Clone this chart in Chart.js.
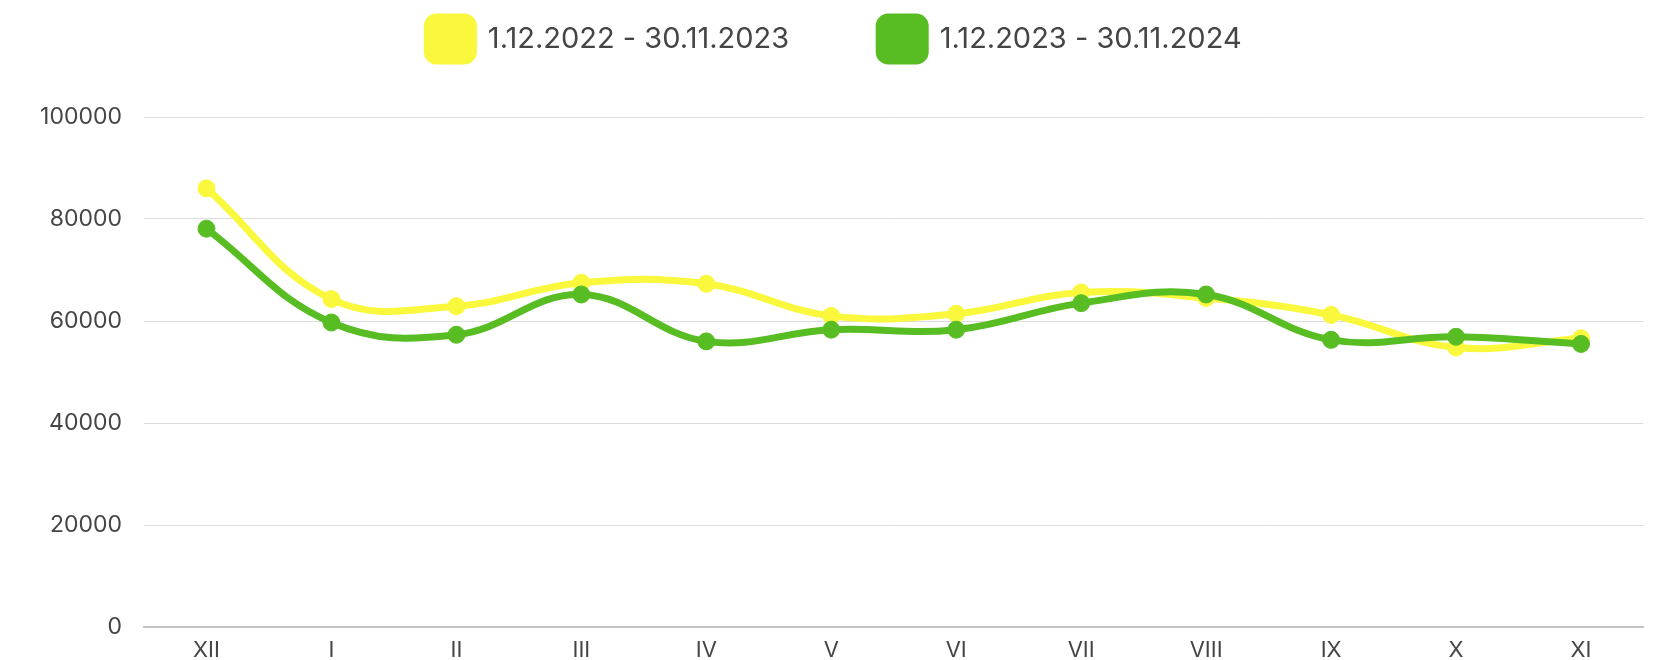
<!DOCTYPE html>
<html>
<head>
<meta charset="utf-8">
<script src="https://cdn.jsdelivr.net/npm/chart.js@4"></script>
<style>
    html, body { margin: 0; padding: 0; background: #ffffff; overflow: hidden; }
    #wrap { width: 1653px; height: 660px; }
</style>
</head>
<body>
<div id="wrap"><canvas id="salesChart" width="1653" height="660"></canvas></div>
<script>
// Months (Roman numerals), Dec -> Nov
const months = ['XII', 'I', 'II', 'III', 'IV', 'V', 'VI', 'VII', 'VIII', 'IX', 'X', 'XI'];

const prevYearLabel = '1.12.2022 - 30.11.2023';
const prevYearValues = [86000, 64300, 62900, 67500, 67300, 61000, 61400, 65600, 64500, 61200, 54800, 56600];

const currYearLabel = '1.12.2023 - 30.11.2024';
const currYearValues = [78100, 59700, 57300, 65200, 56000, 58300, 58300, 63500, 65200, 56300, 56900, 55500];

const yMax = 100000;
const yStep = 20000;

const yellow = '#f9f83c';
const green = '#57bd23';
const textColor = '#454545';

// legend spacing tweaks (legend is drawn by Chart.js, only its box height is changed)
const LEGEND_GAP = 90;
const LEGEND_TOP = 17;
const PLOT_TOP = 117;

const legendSpacer = {
    id: 'legendSpacer',
    afterInit(chart) {
        const legend = chart.legend;
        const origFit = legend.fit;
        legend.fit = function () {
            origFit.call(this);
            this.height = PLOT_TOP - (LEGEND_TOP - LEGEND_GAP);
        };
    }
};

function createSalesChart() {
    const ctx = document.getElementById('salesChart').getContext('2d');
    new Chart(ctx, {
        type: 'line',
        data: {
            labels: months,
            datasets: [{
                // drawn on top
                label: currYearLabel,
                data: currYearValues,
                borderColor: green,
                backgroundColor: green,
                pointBackgroundColor: green,
                pointBorderColor: green,
                borderWidth: 7,
                pointRadius: 8.5,
                pointBorderWidth: 1,
                tension: 0.4,
                fill: false,
            }, {
                label: prevYearLabel,
                data: prevYearValues,
                borderColor: yellow,
                backgroundColor: yellow,
                pointBackgroundColor: yellow,
                pointBorderColor: yellow,
                borderWidth: 7,
                pointRadius: 8.5,
                pointBorderWidth: 1,
                tension: 0.4,
                fill: false,
            }]
        },
        options: {
            responsive: false,
            animation: false,
            layout: {
                padding: { top: LEGEND_TOP - LEGEND_GAP, left: 24, right: 8, bottom: 0 }
            },
            plugins: {
                legend: {
                    position: 'top',
                    reverse: true,
                    labels: {
                        boxWidth: 46,
                        boxHeight: 44,
                        useBorderRadius: true,
                        borderRadius: 9,
                        padding: LEGEND_GAP,
                        color: textColor,
                        font: { family: 'Inter', size: 29 }
                    }
                },
                tooltip: { enabled: false }
            },
            scales: {
                x: {
                    offset: true,
                    grid: { display: false },
                    border: { display: true, color: '#c4c4c4', width: 2 },
                    ticks: {
                        color: textColor,
                        padding: 2,
                        font: { family: 'Inter', size: 22 }
                    },
                    afterFit: function (scale) {
                        scale.height = 33;
                    }
                },
                y: {
                    min: 0,
                    max: yMax,
                    grid: {
                        color: '#dcdcdc',
                        lineWidth: 1,
                        drawTicks: true,
                        tickLength: 22,
                        tickColor: 'rgba(0,0,0,0)'
                    },
                    border: { display: false },
                    ticks: {
                        stepSize: yStep,
                        color: textColor,
                        padding: 0,
                        font: { family: 'Inter', size: 23 },
                        callback: function (value) {
                            return String(value);
                        }
                    },
                    afterFit: function (scale) {
                        scale.width = 120;
                    }
                }
            }
        },
        plugins: [legendSpacer]
    });
}

createSalesChart();
</script>
</body>
</html>
